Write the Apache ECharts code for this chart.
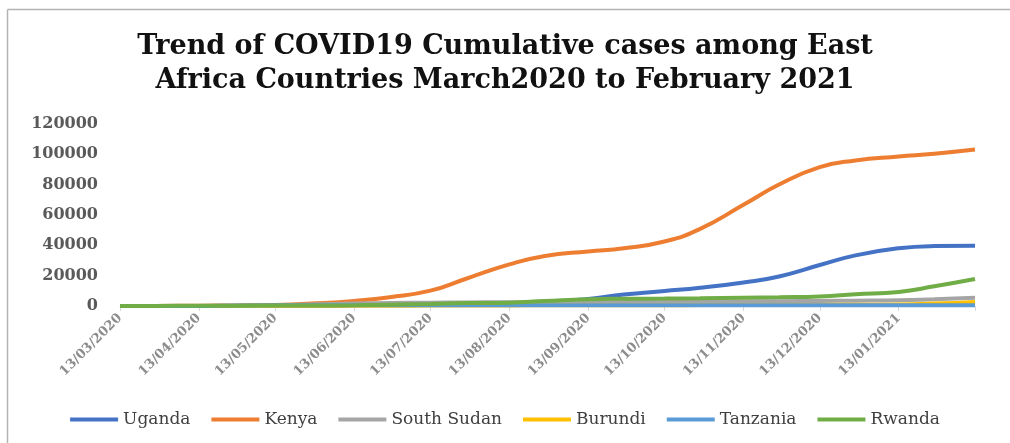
<!DOCTYPE html>
<html>
<head>
<meta charset="utf-8">
<script src="https://cdn.jsdelivr.net/npm/echarts@6/dist/echarts.min.js"></script>
<style>
  html, body { margin: 0; padding: 0; background: #fff; overflow: hidden; }
  #chart { width: 1010px; height: 443px; }
</style>
</head>
<body>
<div id="chart"></div>
<script>
// ---- Data ----
const dates = [
  '2020-03-13','2020-03-27','2020-04-13','2020-04-27','2020-05-13','2020-05-27',
  '2020-06-13','2020-06-27','2020-07-13','2020-07-27','2020-08-13','2020-08-27',
  '2020-09-13','2020-09-27','2020-10-13','2020-10-27','2020-11-13','2020-11-27',
  '2020-12-13','2020-12-27','2021-01-13','2021-01-27','2021-02-12'
];
const uganda     = [0, 30, 54, 79, 129, 281, 694, 870, 1025, 1154, 1473, 2263, 4703, 7518, 9864, 12000, 15542, 19490, 27000, 33400, 38085, 39500, 39700];
const kenya      = [1, 31, 197, 363, 715, 1618, 3305, 5811, 10105, 17975, 27425, 33016, 35969, 38115, 42541, 50833, 66723, 80102, 91575, 95992, 98555, 100422, 103200];
const southSudan = [0, 0, 4, 34, 203, 994, 1670, 2007, 2148, 2330, 2486, 2520, 2576, 2687, 2768, 2900, 2984, 3142, 3300, 3500, 3800, 4500, 5400];
const burundi    = [0, 0, 5, 11, 15, 42, 83, 144, 269, 359, 406, 443, 476, 494, 545, 597, 667, 705, 735, 812, 1000, 1600, 2700];
const tanzania   = [0, 13, 32, 299, 509, 509, 509, 509, 509, 509, 509, 509, 509, 509, 509, 509, 509, 509, 509, 509, 509, 509, 509];
const rwanda     = [1, 54, 126, 207, 286, 346, 536, 900, 1300, 1900, 2200, 3300, 4500, 4800, 4900, 5100, 5500, 5800, 6300, 7700, 9300, 13000, 17800];

const seriesNames  = ['Uganda', 'Kenya', 'South Sudan', 'Burundi', 'Tanzania', 'Rwanda'];
const seriesValues = [uganda, kenya, southSudan, burundi, tanzania, rwanda];
const seriesColors = ['#4472C4', '#ED7D31', '#A5A5A5', '#FFC000', '#5B9BD5', '#70AD47'];

const xTickDates = [
  '2020-03-13','2020-04-13','2020-05-13','2020-06-13','2020-07-13','2020-08-13',
  '2020-09-13','2020-10-13','2020-11-13','2020-12-13','2021-01-13'
];
const xTickLabels = [
  '13/03/2020','13/04/2020','13/05/2020','13/06/2020','13/07/2020','13/08/2020',
  '13/09/2020','13/10/2020','13/11/2020','13/12/2020','13/01/2021'
];
const xMinDate = '2020-03-13';
const xMaxDate = '2021-02-12';
const yTicks = [0, 20000, 40000, 60000, 80000, 100000, 120000];

const titleText = 'Trend of COVID19 Cumulative cases among East\nAfrica Countries March2020 to February 2021';

// ---- helpers: dates -> millisecond timestamps on a numeric axis ----
function ts(s) {
  const p = s.split('-').map(Number);
  return Date.UTC(p[0], p[1] - 1, p[2]);
}
const tickTs = xTickDates.map(ts);
const tickMarkTs = tickTs.concat([ts(xMaxDate)]);

const chart = echarts.init(document.getElementById('chart'), null, { renderer: 'canvas' });

const option = {
  backgroundColor: '#ffffff',
  animation: false,
  title: {
    text: titleText,
    left: 'center',
    top: 25,
    padding: [5, 5, 5, 17],
    textStyle: {
      fontFamily: 'DejaVu Serif',
      fontWeight: 'bold',
      fontSize: 27,
      lineHeight: 34,
      color: '#111111'
    }
  },
  graphic: [
    { type: 'line', shape: { x1: 7.5, y1: 9.5, x2: 1010, y2: 9.5 }, style: { stroke: '#b3b3b3', lineWidth: 1.5 } },
    { type: 'line', shape: { x1: 7.5, y1: 9.5, x2: 7.5, y2: 443 }, style: { stroke: '#b3b3b3', lineWidth: 1.5 } }
  ],
  legend: {
    data: seriesNames,
    top: 406,
    left: 'center',
    padding: [5, 5, 5, 20],
    icon: 'rect',
    itemWidth: 48,
    itemHeight: 4,
    itemGap: 21,
    textStyle: {
      fontFamily: 'DejaVu Serif',
      fontSize: 17,
      color: '#404040'
    }
  },
  grid: { left: 120, right: 35, top: 124, bottom: 137, containLabel: false },
  xAxis: {
    type: 'value',
    min: ts(xMinDate),
    max: ts(xMaxDate),
    splitLine: { show: false },
    axisLine: { show: true, lineStyle: { color: '#d9d9d9', width: 1 } },
    axisTick: { show: true, length: 5, lineStyle: { color: '#d9d9d9' }, customValues: tickMarkTs },
    axisLabel: {
      customValues: tickTs,
      rotate: 45,
      margin: 10,
      fontFamily: 'DejaVu Serif',
      fontWeight: 'bold',
      fontSize: 13,
      color: '#8c8c8c',
      hideOverlap: false,
      formatter: function (v) {
        const i = tickTs.indexOf(v);
        return i >= 0 ? xTickLabels[i] : '';
      }
    }
  },
  yAxis: {
    type: 'value',
    min: yTicks[0],
    max: yTicks[yTicks.length - 1],
    interval: yTicks[1] - yTicks[0],
    splitLine: { show: false },
    axisLine: { show: false },
    axisTick: { show: false },
    axisLabel: {
      margin: 22,
      fontFamily: 'DejaVu Serif',
      fontWeight: 'bold',
      fontSize: 16,
      color: '#595959',
      formatter: function (v) { return String(v); }
    }
  },
  series: seriesNames.map(function (name, k) {
    return {
      name: name,
      type: 'line',
      data: dates.map(function (d, i) { return [ts(d), seriesValues[k][i]]; }),
      showSymbol: false,
      symbol: 'none',
      smooth: 0.5,
      lineStyle: { width: 4, color: seriesColors[k] },
      itemStyle: { color: seriesColors[k] },
      z: 2 + k
    };
  })
};

chart.setOption(option);
</script>
</body>
</html>
